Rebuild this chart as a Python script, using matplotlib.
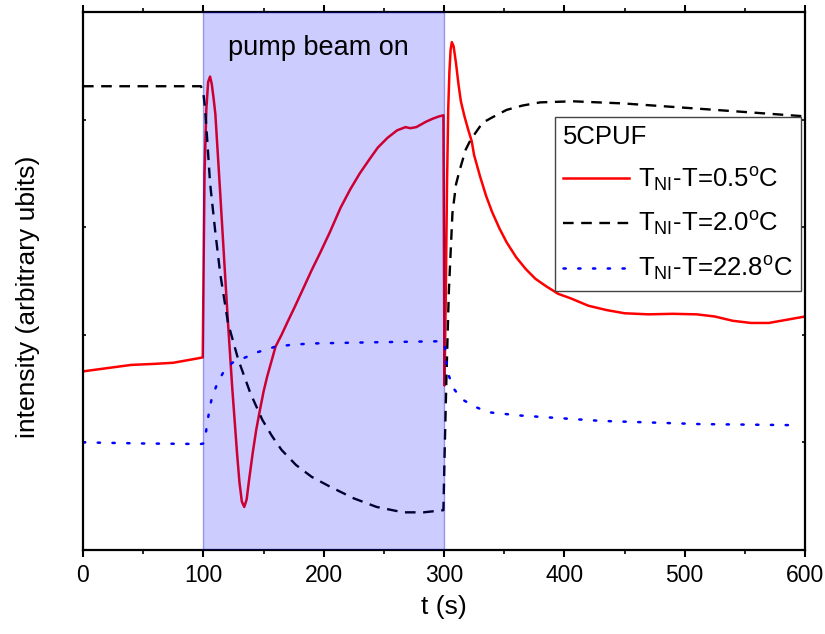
import matplotlib
matplotlib.use("Agg")
import matplotlib.pyplot as plt
from matplotlib.ticker import MultipleLocator, NullFormatter

plt.rcParams['font.family'] = ['Liberation Sans', 'DejaVu Sans']
plt.rcParams['mathtext.fontset'] = 'custom'
plt.rcParams['mathtext.rm'] = 'Liberation Sans'
plt.rcParams['mathtext.it'] = 'Liberation Sans:italic'

# T_NI - T = 0.5 C
t_red = [0, 20, 40, 60, 75, 85, 95, 99.5, 100.2, 101, 102.5, 104, 105.6, 107, 108.5,
         110, 114, 118, 120.5, 124, 128, 130, 132, 134, 136, 138, 141, 144, 147,
         150, 153, 156, 160, 165, 170, 176, 183, 190, 197, 205, 214, 222, 230, 238,
         245, 253, 261, 268, 272, 277, 285, 291, 296, 299.5, 300.4, 301.5, 302.5,
         303.5, 304.5, 305.5, 306.5, 308, 310, 312, 314, 317, 320, 323, 325, 330,
         335, 340, 346, 352, 360, 368, 376, 385, 395, 405, 420, 435, 450, 470, 490,
         510, 525, 540, 555, 570, 585, 600]
i_red = [1.66, 1.69, 1.72, 1.73, 1.74, 1.76, 1.78, 1.79, 2.6, 3.5, 4.1, 4.35, 4.40,
         4.33, 4.20, 4.05, 3.32, 2.57, 2.11, 1.51, 0.90, 0.63, 0.45, 0.40, 0.47,
         0.65, 0.90, 1.12, 1.30, 1.47, 1.61, 1.73, 1.89, 2.00, 2.12, 2.26, 2.43,
         2.60, 2.76, 2.95, 3.18, 3.35, 3.50, 3.63, 3.74, 3.83, 3.90, 3.93, 3.92,
         3.93, 3.98, 4.01, 4.03, 4.04, 1.53, 2.4, 3.4, 4.1, 4.45, 4.65, 4.72, 4.68,
         4.52, 4.33, 4.17, 4.03, 3.91, 3.80, 3.67, 3.47, 3.29, 3.14, 2.99, 2.86,
         2.72, 2.61, 2.52, 2.45, 2.38, 2.34, 2.27, 2.23, 2.20, 2.19, 2.195, 2.19,
         2.17, 2.13, 2.11, 2.11, 2.14, 2.17]

# T_NI - T = 2.0 C
t_blk = [0, 50, 98, 100, 101.5, 103, 105.6, 110, 114, 120.5, 129, 139, 149, 157, 165,
         177, 190, 205, 225, 244, 266, 283, 299.5, 300.5, 302, 304, 307, 310, 313,
         318, 322, 332, 340, 352, 365, 380, 407, 449, 513, 563, 600]
i_blk = [4.31, 4.31, 4.31, 4.25, 4.09, 3.85, 3.41, 2.95, 2.57, 2.11, 1.77, 1.46,
         1.21, 1.06, 0.93, 0.79, 0.68, 0.59, 0.48, 0.40, 0.35, 0.35, 0.37, 0.9,
         1.6, 2.4, 3.13, 3.40, 3.53, 3.72, 3.81, 3.97, 4.02, 4.09, 4.13, 4.16,
         4.17, 4.15, 4.10, 4.06, 4.03]

# T_NI - T = 22.8 C
t_blu = [0, 50, 98, 100, 101.5, 103, 105, 107, 111, 116, 124, 135, 145.5, 160,
         176, 193, 240, 297, 300, 301, 302, 304, 308, 315, 326, 337, 363, 430,
         513, 592]
i_blu = [1.00, 0.99, 0.985, 0.99, 1.04, 1.16, 1.30, 1.41, 1.53, 1.64, 1.74, 1.79,
         1.84, 1.89, 1.91, 1.92, 1.93, 1.94, 1.93, 1.87, 1.75, 1.62, 1.50, 1.40,
         1.33, 1.28, 1.25, 1.20, 1.17, 1.16]

labels = [r'T$_{\mathrm{NI}}$-T=0.5$^{\mathrm{o}}$C',
          r'T$_{\mathrm{NI}}$-T=2.0$^{\mathrm{o}}$C',
          r'T$_{\mathrm{NI}}$-T=22.8$^{\mathrm{o}}$C']
xticks = [0, 100, 200, 300, 400, 500, 600]
pump_on, pump_off = 100, 300

fig = plt.figure(figsize=(8.25, 6.34), dpi=100)
ax = fig.add_axes([0.1006, 0.1325, 0.8752, 0.8486])

ax.plot(t_red, i_red, color='#ff0000', lw=1.8, label=labels[0], zorder=2)
ax.plot(t_blk, i_blk, color='black', lw=1.7, linestyle=(0, (4.5, 3.2)),
        label=labels[1], zorder=2)
ax.plot(t_blu, i_blu, color='#0000ff', lw=1.8, linestyle=(0, (0.9, 5.0)),
        dash_capstyle='round', label=labels[2], zorder=2)

ax.axvspan(pump_on, pump_off, facecolor=(0, 0, 1, 0.2),
           edgecolor=(0, 0, 0.8, 0.35), lw=1.0, zorder=3)
ax.text(0.326, 0.933, 'pump beam on', transform=ax.transAxes, fontsize=19.5,
        ha='center', va='center', zorder=4)

ax.set_xlim(0, 600)
ax.set_ylim(0, 5)
ax.set_xticks(xticks)
ax.xaxis.set_minor_locator(MultipleLocator(50))
ax.yaxis.set_major_locator(MultipleLocator(1))
ax.yaxis.set_major_formatter(NullFormatter())
ax.tick_params(axis='x', which='major', direction='out', length=5, width=1.5,
               labelsize=16.5, pad=5)
ax.tick_params(axis='x', which='minor', direction='out', length=3, width=1.2)
ax.tick_params(axis='x', which='both', top=True)
ax.tick_params(axis='y', which='major', direction='in', length=2, width=1.2,
               right=True)

ax.set_xlabel('t (s)', fontsize=19, labelpad=6)
ax.set_ylabel('intensity (arbitrary ubits)', fontsize=19)
ax.yaxis.set_label_coords(-0.06, 0.47)

for s in ax.spines.values():
    s.set_linewidth(1.6)

leg = ax.legend(title='5CPUF', loc='upper right', bbox_to_anchor=(0.994, 0.805),
                borderaxespad=0, fontsize=18.5, title_fontsize=18.5, fancybox=False,
                edgecolor='#444444', framealpha=1, handlelength=2.6,
                handletextpad=0.35, labelspacing=0.65, borderpad=0.3)
leg._legend_box.align = 'left'
leg.get_frame().set_linewidth(1.0)
leg.set_zorder(5)

fig.savefig('out.png', dpi=100)
